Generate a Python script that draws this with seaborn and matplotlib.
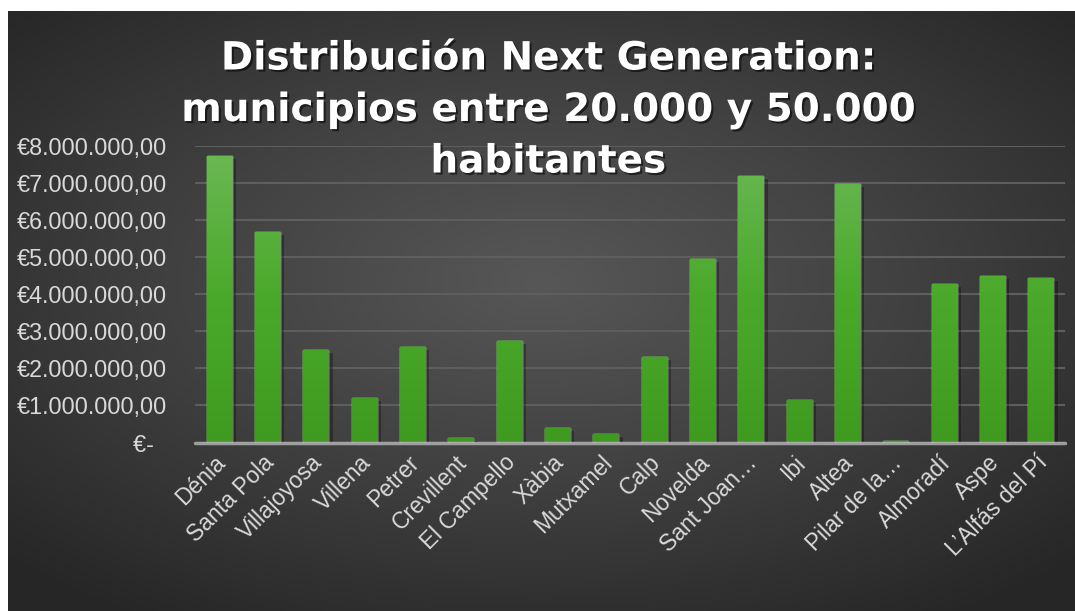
import numpy as np
import pandas as pd
import seaborn as sns
import matplotlib.pyplot as plt
import matplotlib.patheffects as pe
import matplotlib.transforms as mtransforms
from matplotlib.colors import LinearSegmentedColormap
from matplotlib.ticker import FuncFormatter, MultipleLocator

# datos
municipios = ['Dénia', 'Santa Pola', 'Villajoyosa', 'Villena', 'Petrer', 'Crevillent',
              'El Campello', 'Xàbia', 'Mutxamel', 'Calp', 'Novelda', 'Sant Joan…',
              'Ibi', 'Altea', 'Pilar de la…', 'Almoradí', 'Aspe', 'L’Alfás del Pí']
importes = [7730000, 5680000, 2490000, 1190000, 2570000, 110000,
            2730000, 380000, 220000, 2300000, 4950000, 7190000,
            1140000, 6970000, 30000, 4270000, 4490000, 4430000]

titulo = 'Distribución Next Generation:\nmunicipios entre 20.000 y 50.000\nhabitantes'

sns.set_theme(style='dark')
plt.rcParams['font.family'] = ['Liberation Sans', 'DejaVu Sans']

W, H = 1075, 611
fig = plt.figure(figsize=(W / 100, H / 100), dpi=100)
fig.patch.set_facecolor('white')

# fondo con degradado radial
bg = fig.add_axes([8 / W, 0, 1 - 8 / W, 600 / H])
yy, xx = np.mgrid[-1:1:300j, -1:1:500j]
r = np.sqrt((xx / 1.05) ** 2 + ((yy + 0.1) / 1.0) ** 2)
cmap_bg = LinearSegmentedColormap.from_list('bg', ['#575757', '#404040', '#262626'])
bg.imshow(np.clip(r / 1.35, 0, 1), cmap=cmap_bg, aspect='auto', vmin=0, vmax=1,
          interpolation='bicubic')
bg.axis('off')

zero_y = 442.5
top_y = 146
ax = fig.add_axes([195 / W, (H - zero_y) / H, 870 / W, (zero_y - top_y) / H])
ax.patch.set_alpha(0)

df = pd.DataFrame({'Municipio': municipios, 'Importe': importes})
sns.barplot(data=df, x='Municipio', y='Importe', color='#4aa82a', saturation=1,
            width=0.52, ax=ax, zorder=3)

# degradado verde dentro de cada barra
cmap_bar = LinearSegmentedColormap.from_list('bar', ['#3f9b1f', '#4aa92a', '#6ab854'])
grad = np.linspace(0, 1, 256).reshape(-1, 1)
for p in ax.patches:
    p.set_path_effects([pe.SimplePatchShadow(offset=(3, -2), shadow_rgbFace='black', alpha=0.3),
                        pe.Normal()])
    x0, w = p.get_x(), p.get_width()
    im = ax.imshow(grad, cmap=cmap_bar, aspect='auto', origin='lower',
                   extent=[x0, x0 + w, 0, 7800000], zorder=4)
    im.set_clip_path(p)

ax.set_xlim(-0.5, len(municipios) - 0.5)
ax.set_ylim(0, 8000000)
ax.yaxis.set_major_locator(MultipleLocator(1000000))


def euros(v, pos):
    if v == 0:
        return '€-  '
    s = f'{v:,.2f}'.replace(',', 'X').replace('.', ',').replace('X', '.')
    return '€' + s


ax.yaxis.set_major_formatter(FuncFormatter(euros))
ax.yaxis.grid(True, color='#5e5e5e', lw=1.5, zorder=0)
ax.xaxis.grid(False)
ax.set_axisbelow(True)
ax.axhline(0, color='#b0b0b0', lw=2.5, alpha=0.85, zorder=6, clip_on=False)
for s in ax.spines.values():
    s.set_visible(False)

ax.set_xlabel('')
ax.set_ylabel('')
ax.tick_params(axis='y', length=0, pad=20, labelsize=16.8, labelcolor='#d9d9d9')
ax.tick_params(axis='x', length=0, pad=12, labelsize=16.5, labelcolor='#d9d9d9')
offset = mtransforms.ScaledTranslation(3 / 100, 0, fig.dpi_scale_trans)
for lab in ax.get_xticklabels():
    lab.set_rotation(45)
    lab.set_ha('right')
    lab.set_va('center')
    lab.set_rotation_mode('anchor')
    lab.set_transform(lab.get_transform() + offset)

fig.text(548 / W, 1 - 110 / H, titulo, ha='center', va='center', color='white',
         fontsize=28, fontweight='bold', family=['DejaVu Sans'], linespacing=1.45,
         zorder=10,
         path_effects=[pe.withSimplePatchShadow(offset=(1.5, -1.5), shadow_rgbFace='black',
                                                alpha=0.55)])

fig.savefig('out.png', dpi=100, facecolor=fig.get_facecolor())
